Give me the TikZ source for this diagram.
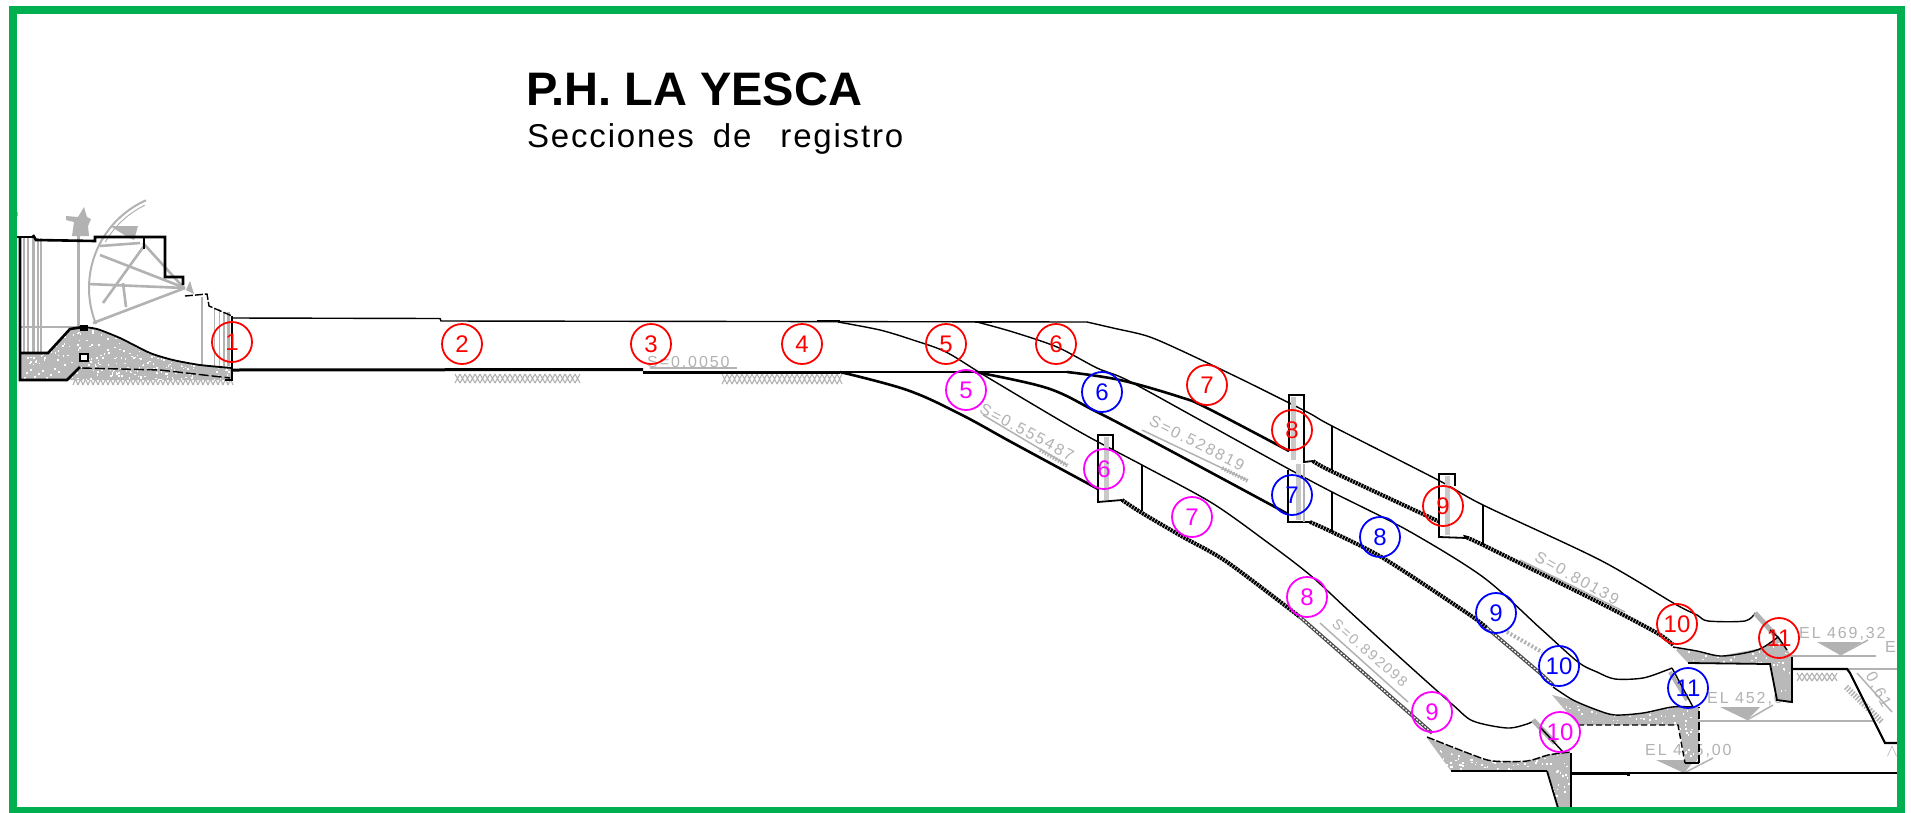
\documentclass[tikz,border=0pt]{standalone}
\usepackage{fontspec}
\setmainfont{Liberation Sans}
\newfontfamily\spacedfont[LetterSpace=5.5]{Liberation Sans}
\newfontfamily\cadfont[LetterSpace=12]{Liberation Sans}
\definecolor{brd}{RGB}{0,176,80}
\definecolor{cadgray}{RGB}{178,178,178}
\definecolor{stipgray}{RGB}{185,185,185}
\definecolor{pinkm}{RGB}{255,0,255}
\tikzset{
 sec/.style={circle,draw,line width=1.8,minimum size=40,inner sep=0,font=\fontsize{24}{24}\selectfont},
 rsec/.style={sec,draw=red,text=red},
 bsec/.style={sec,draw=blue,text=blue},
 msec/.style={sec,draw=pinkm,text=pinkm},
 thinl/.style={black,line width=1.4},
 thickl/.style={black,line width=2.6},
 hatchl/.style={black,line width=4,dash pattern=on 2.2pt off .8pt},
 grayl/.style={cadgray,line width=1.5},
 graybar/.style={cadgray,line width=5},
 cadtext/.style={text=cadgray,inner sep=0,font=\cadfont\fontsize{16}{16}\selectfont},
 capgray/.style={cadgray!70,line width=5},
}
\newcommand{\stippled}[6]{%
 \fill[stipgray] #1 -- cycle;
 \begin{scope}
 \clip #1 -- cycle;
 \pgfmathsetseed{#6}
 \foreach \i in {1,...,#5}{
  \pgfmathsetmacro\px{#2+rnd*#3}
  \pgfmathsetmacro\py{#4+rnd*(#2*0+60)}
  \fill[white] (\px,\py) rectangle ++(1.6,1.6);
 }
 \end{scope}}
\newcommand{\groundband}[4]{%
 \foreach \i in {0,...,#3}{
  \draw[cadgray,line width=1.1] ({#1+\i*5},#2)--++(5,#4) ({#1+\i*5},#2+#4)--++(5,-#4);
 }}
\begin{document}
\begin{tikzpicture}[x=1pt,y=-1pt]
\useasboundingbox (0,0) rectangle (1911,812);
\fill[white] (0,0) rectangle (1911,812);

% title
\node[anchor=base west,inner sep=0,font=\bfseries\fontsize{47}{47}\selectfont] (title) at (526,105) {P.H. LA YESCA};
\node[anchor=base west,inner sep=0,font=\spacedfont\fontsize{33}{33}\selectfont] (subtitle) at (527,147) {Secciones\hspace{19pt}de\hspace{29pt}registro};

% ---- intake structure
\groundband{73}{373}{31}{12}
\groundband{455}{374}{24}{9}
\groundband{722}{374}{23}{10}
\stippled{(20,354)--(48,353)--(70,329)--(83,327)--(97,329)--(120,338)--(150,353)--(173,360)--(200,365)--(232,368)--(232,380)--(67,380)--(80,367)--(20,367)--(20,380)}{18}{216}{325}{420}{3}
\fill[stipgray] (20,367)--(80,367)--(67,380)--(20,380)--cycle;
\foreach \xx/\yy in {26/372,34/376,42/370,50/374,58/371,30/369,46/377,38/373,24/377,54/368}{\fill[white] (\xx,\yy) rectangle ++(1.6,1.6);}
% gate, grey
\draw[grayl,line width=2] plot[domain=-22:66,samples=40] ({185-96*cos(\x)},{288-96*sin(\x)});
\draw[grayl,line width=1] plot[domain=30:64,samples=20] ({185-92*cos(\x)},{288-92*sin(\x)});
\foreach \a/\b in {{(185,288)}/{(88,284)},{(185,288)}/{(100,255)},{(185,288)}/{(93,323)},{(144,246)}/{(103,303)},{(123,283)}/{(126,307)},{(100,246)}/{(140,243)},{(143,243)}/{(183,287)}}{
 \draw[cadgray,line width=2.6] \a -- \b;}
\fill[cadgray] (110,226)--(138,226)--(134,240)--(126,236)--cycle;
\fill[cadgray] (190,281)--(186,290)--(194,294)--cycle;
\draw[cadgray,line width=3] (78,232)--(78,328);
\fill[cadgray] (84,207)--(87,217)--(91,219)--(88,226)--(89,236)--(72,236)--(74,222)--(66,220)--(66,216)--(78,217)--cycle;
\draw[cadgray,line width=1.5] (20,327)--(78,327);
\foreach \xx/\w in {24/2,28/2,33/3,38/2,41/2,202/2,214/1,219/1,224/1.5,228/3}{
 \pgfmathsetmacro\ytop{\xx<100?238:(\xx<210?297:(\xx<220?309:312))}
 \pgfmathsetmacro\ybot{\xx<100?353:366}
 \draw[cadgray,line width=\w] (\xx,\ytop)--(\xx,\ybot);}
\draw[cadgray,line width=1.5] (17,212)--(17,216);
% intake, black
\draw[thickl] (20,237)--(20,380)--(67,380)--(80,367);
\draw[thinl] (17,237)--(33,237);
\draw[thickl] (33,235)--(36,240)--(95,241)--(95,237)--(165,237)--(165,277)--(183,277)--(183,285);
\draw[thinl,dash pattern=on 8pt off 2pt] (185,296)--(207,294)--(209,306)--(232,316);
\draw[thickl] (144,238)--(144,249);
\draw[thickl] (20,353)--(48,353)--(70,329)--(83,327);
\fill (80,325) rectangle (88,331);
\draw[thinl,line width=1.8] plot[smooth,tension=.4] coordinates {(83,327) (97,329) (120,338) (150,353) (173,360) (200,365) (232,368)};
\draw[thickl] (232,316)--(232,380)--(225,380);
\draw[thinl,dash pattern=on 10pt off 3pt] (82,368)--(160,370)--(230,378);
\draw[black,fill=white,line width=1.4] (80,354) rectangle (88,361);

% ---- channels, floor and crest
\draw[thinl] (232,318)--(440,318.5)--(441,321)--(1087,322);
\draw[black,line width=2.6] (817,321)--(840,321);
\draw[black,line width=2.6] (975,322)--(992,322);
\draw[thickl,line width=3] (232,370)--(643,369.5);
\draw[thickl,line width=3] (643,372)--(840,372);
\draw[thickl] (840,372)--(1067,372);
\draw[thickl] plot[smooth,tension=.6] coordinates {(1067,372) (1120,380) (1180,397) (1207,408) (1289,451)};
\draw[thinl] plot[smooth,tension=.5] coordinates {(1087,322) (1113,328) (1147,336) (1180,350) (1243,380) (1307,412) (1332,426) (1438,480) (1483,505) (1600,560) (1675,604) (1697,615) (1708,621) (1745,621) (1755,613)};
\draw[thinl] plot[smooth,tension=.5] coordinates {(977,322) (1013,332) (1057,347) (1097,368) (1127,380) (1200,420) (1287,468) (1332,492) (1407,530) (1483,577) (1540,628) (1578,662) (1597,672) (1615,679) (1643,678) (1667,670) (1672,668)};
\draw[thinl] plot[smooth,tension=.5] coordinates {(838,322) (880,330) (913,340) (946,352) (987,377) (1080,432) (1142,465) (1212,503) (1267,542) (1310,575) (1348,610) (1395,653) (1453,705) (1473,721) (1507,728) (1527,724) (1535,720)};
\draw[thickl] plot[smooth,tension=.6] coordinates {(975,372) (1047,388) (1095,411) (1143,436) (1288,514)};
\draw[thickl] plot[smooth,tension=.6] coordinates {(840,372) (907,390) (960,414) (1013,443) (1098,489)};

% cap strips, grey
\draw[capgray] (1293,397)--(1293,460);
\draw[capgray] (1298,464)--(1298,520);
\draw[capgray] (1106,437)--(1106,500);
\draw[capgray] (1447,476)--(1447,535);
% caps and separators
\draw[thinl,line width=1.8] (1289,451)--(1289,395)--(1304,395)--(1304,462)--(1313,461);
\draw[thinl,line width=1.8] (1288,470)--(1288,522)--(1310,522);
\draw[grayl] (1304,464)--(1304,522);
\draw[thinl,line width=1.8] (1098,487)--(1098,435)--(1113,435)--(1113,450);
\draw[thinl,line width=1.8] (1098,487)--(1098,502)--(1122,500);
\draw[thinl,line width=1.8] (1439,522)--(1439,474)--(1455,474)--(1455,486);
\draw[thinl,line width=1.8] (1439,522)--(1439,537)--(1467,538);
\draw[thinl,line width=1.6] (1332,426)--(1332,470);
\draw[thinl,line width=1.6] (1483,505)--(1483,545);
\draw[thinl,line width=1.6] (1332,492)--(1332,532);
\draw[thinl,line width=1.6] (1142,465)--(1142,511);
% lower chute floors
\draw[hatchl] plot[smooth,tension=.5] coordinates {(1313,461) (1333,472) (1440,522)};
\draw[hatchl] plot[smooth,tension=.5] coordinates {(1467,538) (1483,545) (1600,603) (1657,633) (1673,645)};
\draw[hatchl] plot[smooth,tension=.5] coordinates {(1310,522) (1332,532) (1383,558) (1467,613) (1487,628)};
\draw[black!70,line width=3.6] (1487,628)--(1540,673)--(1553,685);
\draw[white,line width=1.2,dash pattern=on 2pt off 1.6pt] (1487,628)--(1540,673)--(1553,685);
\draw[hatchl] plot[smooth,tension=.5] coordinates {(1122,500) (1142,513) (1183,537) (1227,562) (1300,617)};
\draw[black!70,line width=3.6] (1300,617)--(1357,667)--(1432,733);
\draw[white,line width=1.2,dash pattern=on 2pt off 1.6pt] (1300,617)--(1357,667)--(1432,733);

% ---- slope labels
\node[cadtext,anchor=base west] (s1) at (647,367) {S=0,0050};
\draw[grayl] (650,368)--(737,368);
\node[cadtext,rotate=-28] (s2) at (1027,432) {S=0.555487};
\draw[grayl] (983,415)--(1067,465);
\draw[cadgray,line width=4,dash pattern=on 1.5pt off 1.5pt] (1040,450)--(1068,466);
\node[cadtext,rotate=-27] (s3) at (1197,443) {S=0.528819};
\draw[grayl] (1142,430)--(1247,480);
\draw[cadgray,line width=4,dash pattern=on 1.5pt off 1.5pt] (1222,468)--(1248,481);
\node[cadtext,rotate=-29] (s4) at (1577,578) {S=0.80139};
\draw[grayl] (1520,560)--(1625,612);
\node[cadtext,rotate=-41,font=\cadfont\fontsize{14.5}{14.5}\selectfont] (s5) at (1370,653) {S=0.892098};
\draw[grayl] (1320,623)--(1408,702);
\draw[cadgray,line width=4,dash pattern=on 2pt off 2pt] (1507,632)--(1542,652);

% ---- elevations and tailrace
\node[cadtext,anchor=base west] (el1) at (1799,638) {EL 469,32};
\node[cadtext,anchor=base west] (el1b) at (1885,652) {E};
\node[cadtext,anchor=base west] (el2) at (1707,703) {EL 452,00};
\node[cadtext,anchor=base west] (el3) at (1645,755) {EL 445,00};
\draw[grayl] (1790,656)--(1876,656);
\fill[cadgray] (1817,642)--(1862,642)--(1840,655)--cycle;
\draw[grayl] (1840,655)--(1868,640);
\draw[grayl] (1699,721)--(1873,721);
\fill[cadgray] (1720,707)--(1760,707)--(1747,720)--cycle;
\draw[grayl] (1747,720)--(1773,705);
\fill[cadgray] (1656,760)--(1695,760)--(1684,773)--cycle;
\draw[grayl] (1684,773)--(1713,758);
\draw[grayl] (1847,669)--(1897,669);
\draw[grayl] (1857,673)--(1892,712);
\groundband{1797}{673}{7}{8}
\draw[cadgray,line width=6,dash pattern=on 1.5pt off 1.5pt] (1846,687)--(1882,722);
\node[cadtext,rotate=-62] (el4) at (1878,690) {0,61};
\node[cadtext] (el5) at (1892,752) {$\wedge$};

% ---- flip buckets
\stippled{(1673,647)--(1688,663)--(1770,664)--(1777,700)--(1792,702)--(1792,657)--(1779,637)--(1762,648)--(1720,656)--(1697,651)}{1670}{125}{636}{110}{5}
\stippled{(1552,695)--(1578,725)--(1678,725)--(1683,747)--(1685,763)--(1699,763)--(1699,707)--(1693,707)--(1672,707)--(1643,713)--(1615,715)--(1597,710)--(1573,700)}{1550}{152}{705}{200}{7}
\stippled{(1427,738)--(1451,771)--(1547,771)--(1558,808)--(1571,808)--(1571,753)--(1560,752)--(1548,755)--(1527,761)--(1493,761)--(1473,755)}{1425}{150}{750}{230}{11}
% red
\draw[cadgray,line width=5] (1755,613)--(1775,635);
\draw[thinl] (1770,630)--(1778,637)--(1787,650);
\draw[thinl] plot[smooth,tension=.5] coordinates {(1673,647) (1697,651) (1720,656) (1745,653) (1762,648) (1778,637)};
\draw[thinl,line width=1.8] (1688,663)--(1770,664)--(1777,700)--(1792,702)--(1792,657);
\draw[thickl,line width=2.2] (1792,669)--(1847,669)--(1850,673)--(1885,743)--(1897,743);
% blue
\draw[cadgray,line width=4] (1670,672)--(1687,700);
\draw[thinl] (1672,668)--(1693,707);
\draw[thinl] plot[smooth,tension=.5] coordinates {(1553,687) (1573,700) (1597,710) (1615,715) (1643,713) (1672,707) (1693,707)};
\draw[thinl,dash pattern=on 6pt off 3pt] (1578,725)--(1678,725)--(1685,763);
\draw[thinl,line width=1.8] (1685,763)--(1699,763);
\draw[thinl,dash pattern=on 8pt off 3pt] (1699,763)--(1699,707);
% magenta
\draw[cadgray,line width=5] (1533,720)--(1555,743);
\draw[thinl] (1540,727)--(1563,752);
\draw[thinl,dash pattern=on 8pt off 2pt] plot[smooth,tension=.5] coordinates {(1427,737) (1473,755) (1493,761) (1527,761) (1548,755) (1571,752)};
\draw[thinl] (1451,771)--(1547,771);
\draw[thinl,line width=1.8] (1547,771)--(1558,808);
\draw[thickl] (1571,753)--(1571,808);
\draw[thinl] (1571,773)--(1897,773);
\draw[thickl,line width=3] (1571,773)--(1628,773)--(1628,776);

% ---- section marks
\node[rsec] (r1) at (232,342) {1};
\node[rsec] (r2) at (462,344) {2};
\node[rsec] (r3) at (651,344) {3};
\node[rsec] (r4) at (802,344) {4};
\node[rsec] (r5) at (946,344) {5};
\node[rsec] (r6) at (1056,344) {6};
\node[rsec] (r7) at (1207,385) {7};
\node[rsec] (r8) at (1292,430) {8};
\node[rsec] (r9) at (1443,506) {9};
\node[rsec] (r10) at (1677,624) {10};
\node[rsec] (r11) at (1779,638) {11};
\node[bsec] (b6) at (1102,392) {6};
\node[bsec] (b7) at (1292,495) {7};
\node[bsec] (b8) at (1380,537) {8};
\node[bsec] (b9) at (1496,613) {9};
\node[bsec] (b10) at (1559,666) {10};
\node[bsec] (b11) at (1688,688) {11};
\node[msec] (m5) at (966,390) {5};
\node[msec] (m6) at (1104,469) {6};
\node[msec] (m7) at (1192,517) {7};
\node[msec] (m8) at (1307,597) {8};
\node[msec] (m9) at (1432,712) {9};
\node[msec] (m10) at (1560,732) {10};

% border
\fill[white] (1901,0) rectangle (1911,812);
\draw[brd,line width=8] (13,10) rectangle (1901,811);
\fill[white] (1905,0) rectangle (1911,812);
\end{tikzpicture}
\end{document}
